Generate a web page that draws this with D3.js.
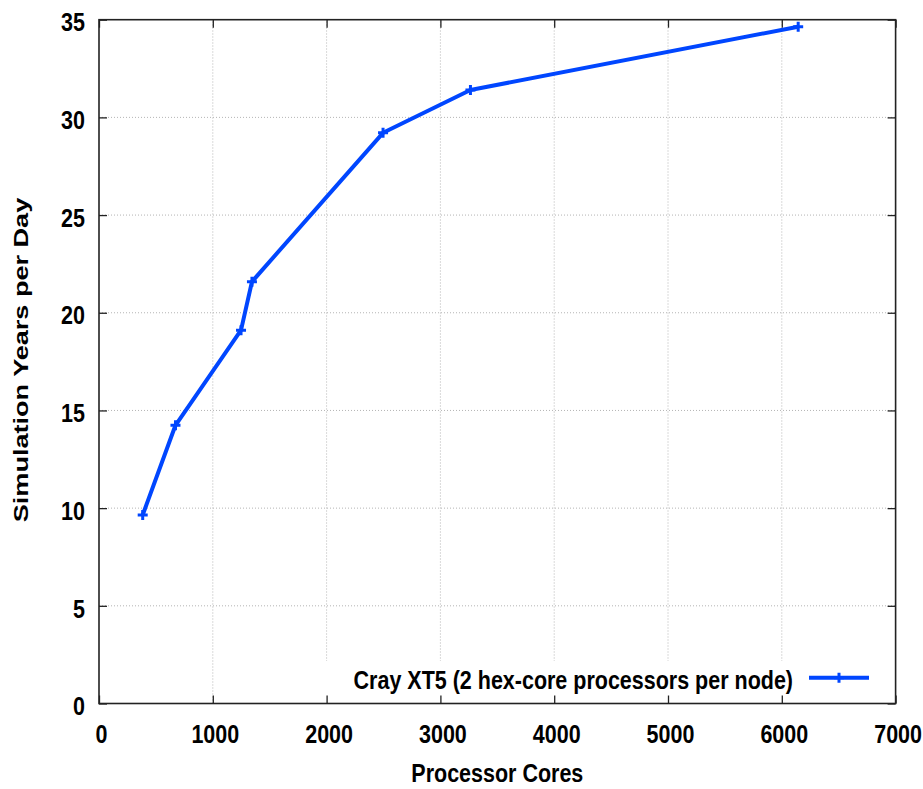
<!DOCTYPE html>
<html>
<head>
<meta charset="utf-8">
<script src="https://cdn.jsdelivr.net/npm/d3@7"></script>
<style>
  html, body { margin: 0; padding: 0; background: #fff; }
  text { font-family: "Liberation Sans", Arial, sans-serif; font-weight: bold; }
</style>
</head>
<body>
<div id="chart"></div>
<script>

// data
var cores = [384, 672, 1248, 1344, 2496, 3264, 6144];
var yearsPerDay = [9.65, 14.24, 19.11, 21.59, 29.21, 31.40, 34.64];

var xTicks = [0, 1000, 2000, 3000, 4000, 5000, 6000, 7000];
var yTicks = [0, 5, 10, 15, 20, 25, 30, 35];

var seriesName = 'Cray XT5 (2 hex-core processors per node)';
var xTitle = 'Processor Cores';
var yTitle = 'Simulation Years per Day';

var W = 923, H = 789;
var margin = { top: 19.7, right: 27.4, bottom: 85.5, left: 99 };
var blue = '#0046ff';
var stretch = 1.24;   // text in the picture is vertically stretched

var svg = d3.select('#chart').append('svg')
  .attr('width', W)
  .attr('height', H);

var x = d3.scaleLinear()
  .domain([0, 7000])
  .range([margin.left, W - margin.right]);

var y = d3.scaleLinear()
  .domain([0, 35])
  .range([H - margin.bottom, margin.top]);

// dotted grid
var grid = svg.append('g');
grid.selectAll('line.gx')
    .data(xTicks.slice(1, -1))
    .enter()
  .append('line')
    .attr('x1', function (d) { return x(d); })
    .attr('x2', function (d) { return x(d); })
    .attr('y1', y(0))
    .attr('y2', y(35))
    .attr('stroke', '#b4b4b4')
    .attr('stroke-width', 1)
    .attr('stroke-dasharray', '1,2');

grid.selectAll('line.gy')
    .data(yTicks.slice(1, -1))
    .enter()
  .append('line')
    .attr('x1', x(0))
    .attr('x2', x(7000))
    .attr('y1', function (d) { return y(d); })
    .attr('y2', function (d) { return y(d); })
    .attr('stroke', '#b4b4b4')
    .attr('stroke-width', 1)
    .attr('stroke-dasharray', '1,2');

// opaque key box
svg.append('rect')
  .attr('x', 318)
  .attr('y', 661)
  .attr('width', x(7000) - 318)
  .attr('height', y(0) - 661)
  .attr('fill', '#fff');

// axes (ticks pointing inward, gnuplot style)
var bottom = svg.append('g')
  .attr('transform', 'translate(0,' + y(0) + ')')
  .call(d3.axisBottom(x).tickValues(xTicks).tickFormat(d3.format('d'))
    .tickSize(-8).tickSizeOuter(0));

bottom.selectAll('text')
  .attr('y', 0)
  .attr('dy', 0)
  .attr('transform', 'translate(2,39.2) scale(1,' + stretch + ')');

var left = svg.append('g')
  .attr('transform', 'translate(' + x(0) + ',0)')
  .call(d3.axisLeft(y).tickValues(yTicks).tickFormat(d3.format('d'))
    .tickSize(-8).tickSizeOuter(0));

left.selectAll('text')
  .attr('x', 0)
  .attr('dy', 0)
  .attr('text-anchor', 'end')
  .attr('transform', 'translate(-14,11.2) scale(1,' + stretch + ')');

svg.append('g')
  .attr('transform', 'translate(0,' + y(35) + ')')
  .call(d3.axisTop(x).tickValues(xTicks).tickSize(-8).tickSizeOuter(0).tickFormat(''));

svg.append('g')
  .attr('transform', 'translate(' + x(7000) + ',0)')
  .call(d3.axisRight(y).tickValues(yTicks).tickSize(-8).tickSizeOuter(0).tickFormat(''));

svg.selectAll('.domain').remove();
svg.selectAll('.tick line')
  .attr('stroke', '#222')
  .attr('stroke-width', 1.3);
svg.selectAll('.tick text')
  .attr('fill', '#000')
  .style('font-size', '21.5px')
  .style('font-family', '"Liberation Sans", Arial, sans-serif')
  .style('font-weight', 'bold');

// frame
svg.append('rect')
  .attr('x', x(0))
  .attr('y', y(35))
  .attr('width', x(7000) - x(0))
  .attr('height', y(0) - y(35))
  .attr('fill', 'none')
  .attr('stroke', '#222')
  .attr('stroke-width', 1.6);

// the series
var pts = cores.map(function (c, i) { return [c, yearsPerDay[i]]; });

var line = d3.line()
  .x(function (d) { return x(d[0]); })
  .y(function (d) { return y(d[1]); });

svg.append('path')
  .datum(pts)
  .attr('d', line)
  .attr('fill', 'none')
  .attr('stroke', blue)
  .attr('stroke-width', 4)
  .attr('stroke-linejoin', 'round');

var plus = 'M-5,0H5M0,-5V5';

svg.selectAll('path.pt')
    .data(pts)
    .enter()
  .append('path')
    .attr('class', 'pt')
    .attr('d', plus)
    .attr('transform', function (d) { return 'translate(' + x(d[0]) + ',' + y(d[1]) + ')'; })
    .attr('stroke', blue)
    .attr('stroke-width', 3);

// key
svg.append('text')
  .attr('text-anchor', 'end')
  .attr('transform', 'translate(793,689) scale(1,' + stretch + ')')
  .style('font-size', '21.5px')
  .text(seriesName);

svg.append('line')
  .attr('x1', 809)
  .attr('x2', 869)
  .attr('y1', 677.7)
  .attr('y2', 677.7)
  .attr('stroke', blue)
  .attr('stroke-width', 4);

svg.append('path')
  .attr('d', plus)
  .attr('transform', 'translate(839,677.7)')
  .attr('stroke', blue)
  .attr('stroke-width', 3);

// axis titles
svg.append('text')
  .attr('text-anchor', 'middle')
  .attr('transform', 'translate(' + ((x(0) + x(7000)) / 2) + ',782) scale(1,' + stretch + ')')
  .style('font-size', '21.5px')
  .text(xTitle);

svg.append('text')
  .attr('text-anchor', 'middle')
  .attr('transform', 'translate(28,360) rotate(-90) scale(1.29,1)')
  .style('font-size', '21px')
  .text(yTitle);

</script>
</body>
</html>
